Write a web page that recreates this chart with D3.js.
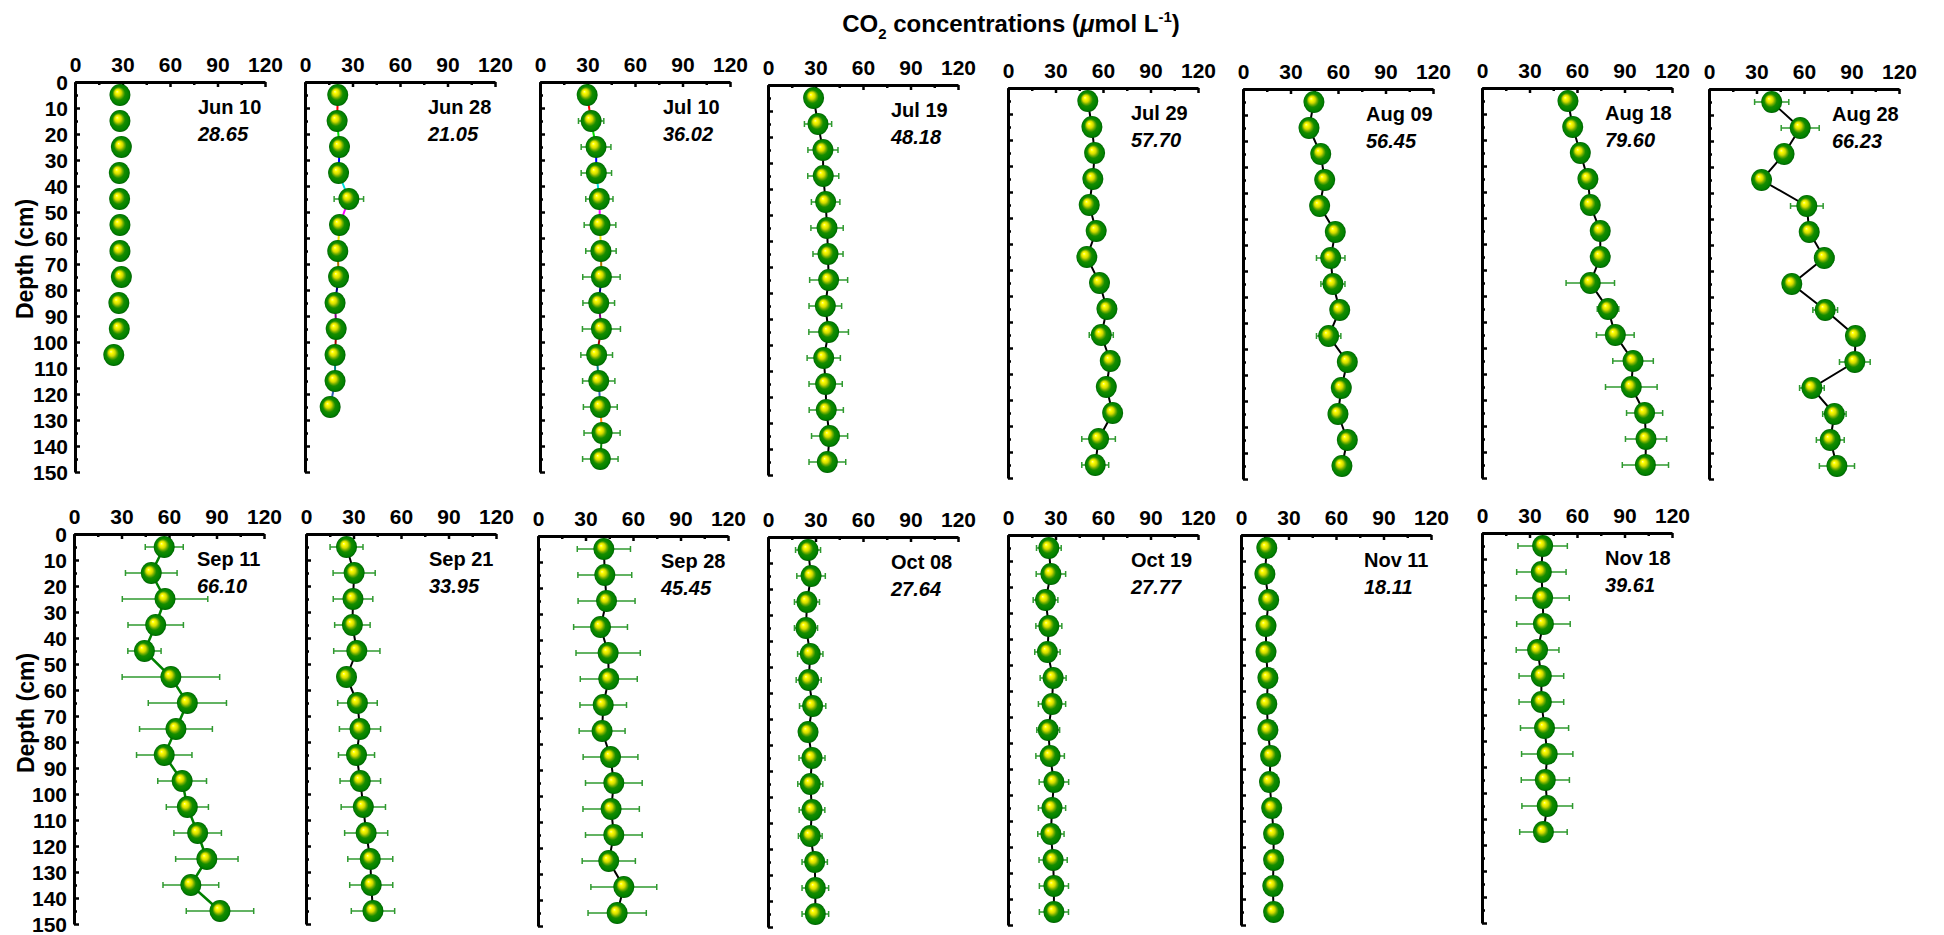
<!DOCTYPE html>
<html lang="en">
<head>
<meta charset="UTF-8">
<title>CO2 depth profiles</title>
<script src="https://d3js.org/d3.v7.min.js"></script>
<style>
    body { margin: 0; background: #fff; }
    svg { display: block; font-family: "Liberation Sans", Arial, sans-serif; font-weight: bold; }
    .axis text { font-size: 21px; font-weight: bold; fill: #000; }
    .axis .tick line { stroke: #000; stroke-width: 2.5; }
    .axis path.domain { stroke: #000; stroke-width: 3; }
</style>
</head>
<body>
<svg width="1944" height="935"></svg>
<script>
// ---- data ----
const depths = [5, 15, 25, 35, 45, 55, 65, 75, 85, 95, 105, 115, 125, 135, 145];
const dates = ["Jun 10", "Jun 28", "Jul 10", "Jul 19", "Jul 29", "Aug 09", "Aug 18", "Aug 28",
               "Sep 11", "Sep 21", "Sep 28", "Oct 08", "Oct 19", "Nov 11", "Nov 18"];
const means = ["28.65", "21.05", "36.02", "48.18", "57.70", "56.45", "79.60", "66.23",
               "66.10", "33.95", "45.45", "27.64", "27.77", "18.11", "39.61"];
const xTicks = [0, 30, 60, 90, 120];
const depthTicks = d3.range(0, 151, 10);

const jun10 = [28.4, 28.4, 29.3, 28.0, 28.2, 28.4, 28.4, 29.3, 27.7, 28.0, 24.5];
const jun10Err = [1, 1, 1, 1, 1, 1, 1, 1, 1, 1, 1];
const jun28 = [20.7, 20.3, 21.8, 21.2, 27.7, 21.8, 20.7, 21.2, 19.0, 19.7, 19.0, 19.0, 15.9];
const jun28Err = [1, 1, 1, 1, 9.3, 1, 1, 1, 1, 1, 1, 1, 1];
const jul10 = [29.8, 32.3, 35.4, 35.6, 37.5, 37.9, 38.5, 38.8, 37.1, 38.8, 35.8, 37.1, 38.1, 39.2, 38.1];
const jul10Err = [2, 8, 9.4, 9.6, 8.6, 10, 9.6, 11.8, 10, 12, 10, 10.2, 10.7, 11.4, 11.2];
const jul19 = [28.8, 31.6, 34.7, 34.9, 36.4, 37.3, 37.9, 38.3, 36.2, 38.3, 35.2, 36.4, 36.8, 38.9, 37.5];
const jul19Err = [3, 8.6, 9.5, 9.8, 9, 10.2, 9.5, 12, 10.3, 12.5, 10.5, 10.5, 10.8, 11.4, 11.6];
const jul29 = [50.4, 53.0, 54.7, 53.6, 51.3, 55.7, 49.8, 57.8, 62.5, 58.9, 64.6, 62.1, 66.1, 57.2, 55.1];
const jul29Err = [1, 1, 2, 1, 1, 1, 1, 2, 1, 7.6, 2, 1, 2, 10.6, 8.5];
const aug09 = [44.8, 41.7, 49.1, 51.6, 48.4, 58.3, 55.4, 56.8, 61.1, 54.1, 65.9, 62.1, 60.0, 65.9, 62.5];
const aug09Err = [1, 1, 1, 3, 1, 1, 9, 7.6, 1, 7.7, 1, 1, 1, 1, 1];
const aug18 = [54.3, 57.3, 62.1, 66.9, 68.4, 74.7, 74.7, 68.4, 79.6, 84.2, 95.4, 94.3, 102.7, 103.6, 103.2];
const aug18Err = [2, 2, 3, 3, 2, 2, 1, 15.3, 6.8, 11.9, 12.8, 16.3, 11.4, 13, 14.6];
const aug28 = [39.6, 57.6, 47.4, 33.2, 61.8, 63.3, 72.8, 52.3, 73.4, 92.5, 92.1, 65.0, 79.2, 76.6, 80.8];
const aug28Err = [10.8, 12, 1, 1, 10.3, 1, 6, 2, 7.8, 1, 9.7, 7.8, 7.4, 8.8, 11.1];
const sep11 = [57.0, 48.8, 57.5, 51.6, 44.5, 61.2, 71.6, 64.4, 57.0, 68.3, 71.6, 78.1, 83.9, 73.8, 92.2];
const sep11Err = [12, 16.3, 27, 17.5, 10.5, 30.8, 24.7, 23, 17.5, 15.4, 13.3, 15, 19.7, 17.6, 21.3];
const sep21 = [25.6, 30.4, 29.7, 29.3, 32.1, 25.6, 32.5, 34.1, 31.9, 34.3, 36.2, 38.0, 40.6, 41.2, 42.3];
const sep21Err = [10.4, 13.3, 12.5, 11.2, 14.6, 2, 12.5, 13, 11.4, 12.8, 14, 13.6, 14.2, 13.6, 13.7];
const sep28 = [41.6, 42.2, 43.3, 39.5, 44.3, 44.7, 41.2, 40.5, 45.8, 47.9, 46.2, 47.9, 44.7, 54.2, 50.0];
const sep28Err = [16.8, 17, 18, 17, 20.3, 18, 14.7, 14.5, 17.3, 17.9, 17.8, 17.9, 16.8, 20.8, 18.4];
const oct08 = [25.3, 27.2, 24.6, 24.0, 26.7, 25.7, 28.2, 25.3, 27.8, 26.7, 27.8, 26.7, 29.5, 29.9, 29.9];
const oct08Err = [7.9, 9, 7.9, 7.3, 8, 7.9, 8.3, 3, 8.2, 7.9, 8.1, 7.5, 8, 8.4, 8.4];
const oct19 = [25.8, 27.1, 23.7, 25.8, 24.9, 28.5, 27.8, 25.4, 26.6, 29.0, 27.8, 27.1, 28.5, 29.0, 29.0];
const oct19Err = [7.8, 9.3, 7.8, 8.2, 8, 8.2, 8.6, 7.2, 9, 9.3, 8.6, 8.3, 8.9, 9.2, 9.2];
const nov11 = [16.3, 15.1, 17.5, 15.8, 15.8, 17.0, 16.3, 17.0, 18.7, 18.0, 19.4, 20.6, 20.6, 20.1, 20.6];
const nov11Err = [1, 1, 1, 1, 1, 1, 1, 1, 1, 1, 1, 1, 1, 1, 1];
const nov18 = [38.3, 37.5, 38.3, 38.8, 35.1, 37.5, 37.5, 39.5, 41.2, 40.0, 41.2, 38.8];
const nov18Err = [15.6, 15.6, 16.8, 16.9, 13.5, 14.1, 14.1, 15.2, 16.2, 15.2, 16, 15];

const values = [jun10, jun28, jul10, jul19, jul29, aug09, aug18, aug28,
                sep11, sep21, sep28, oct08, oct19, nov11, nov18];
const errors = [jun10Err, jun28Err, jul10Err, jul19Err, jul29Err, aug09Err, aug18Err, aug28Err,
                sep11Err, sep21Err, sep28Err, oct08Err, oct19Err, nov11Err, nov18Err];

// ---- layout ----
const panelLeft = [75, 305, 540, 768, 1008, 1243, 1482, 1709,
                   74, 306, 538, 768, 1008, 1241, 1482];
const panelTop = [82, 82, 82, 85, 88, 89, 88, 89,
                  534, 534, 536, 537, 535, 535, 533];
const panelW = 190, panelH = 390;
// connector line style per panel
const lineStyle = ["none", "multi", "multi", "black", "black", "black", "black", "black",
                   "green", "black", "black", "black", "black", "black", "black"];
const multiColors = ["#ff0000", "#00e000", "#0000ff", "#00e0e0", "#ff00ff", "#e8e800", "#b07000",
                     "#000080", "#800080", "#a00000", "#008080", "#3060b0", "#ff8000", "#008000"];

const svg = d3.select("svg");

// ball gradient
const grad = svg.append("defs").append("radialGradient")
    .attr("id", "ball")
    .attr("cx", "50%").attr("cy", "50%").attr("r", "50%")
    .attr("fx", "36%").attr("fy", "34%");
[[0, "#ffffa0"], [0.14, "#ffff00"], [0.32, "#d2d800"], [0.46, "#6cac00"],
 [0.6, "#168c00"], [0.88, "#008000"], [1, "#005e00"]]
    .forEach(s => grad.append("stop").attr("offset", s[0]).attr("stop-color", s[1]));

const x = d3.scaleLinear().domain([0, 120]).range([0, panelW]);
const y = d3.scaleLinear().domain([0, 150]).range([0, panelH]);

dates.forEach((date, p) => {
    const g = svg.append("g").attr("transform", `translate(${panelLeft[p]},${panelTop[p]})`);
    const firstCol = (p === 0 || p === 8);
    const vals = values[p];
    const errs = errors[p];
    const pts = vals.map((v, i) => ({v: v, d: depths[i], e: errs[i]}));

    // minor ticks
    g.append("g").attr("class", "axis")
        .call(d3.axisTop(x).tickValues([15, 45, 75, 105]).tickSize(-3).tickFormat(""))
        .call(a => a.select(".domain").remove());
    g.append("g").attr("class", "axis")
        .call(d3.axisLeft(y).tickValues(d3.range(5, 150, 10)).tickSize(-3).tickFormat(""))
        .call(a => a.select(".domain").remove());

    // major axes
    g.append("g").attr("class", "axis")
        .call(d3.axisTop(x).tickValues(xTicks).tickSize(-5).tickSizeOuter(0).tickPadding(10));
    g.append("g").attr("class", "axis")
        .call(d3.axisLeft(y).tickValues(depthTicks).tickSize(-5).tickSizeOuter(0).tickPadding(7)
            .tickFormat(firstCol ? d3.format("d") : ""))
        .call(a => a.selectAll("text").attr("dy", "0.36em"));

    // connecting line
    if (lineStyle[p] === "multi") {
        g.selectAll(".seg").data(pts.slice(1)).enter().append("line")
            .attr("x1", (d, i) => x(pts[i].v)).attr("y1", (d, i) => y(pts[i].d))
            .attr("x2", d => x(d.v)).attr("y2", d => y(d.d))
            .attr("stroke", (d, i) => multiColors[i % multiColors.length])
            .attr("stroke-width", 2);
    } else if (lineStyle[p] !== "none") {
        g.append("path").datum(pts)
            .attr("d", d3.line().x(d => x(d.v)).y(d => y(d.d)))
            .attr("fill", "none")
            .attr("stroke", lineStyle[p] === "green" ? "#008000" : "#000")
            .attr("stroke-width", lineStyle[p] === "green" ? 2.5 : 2);
    }

    // error bars
    const eb = g.selectAll(".eb").data(pts).enter().append("g")
        .attr("stroke", "#2f9a2f").attr("stroke-width", 1.5);
    eb.append("line")
        .attr("x1", d => x(d.v - d.e)).attr("x2", d => x(d.v + d.e))
        .attr("y1", d => y(d.d)).attr("y2", d => y(d.d));
    eb.append("line")
        .attr("x1", d => x(d.v - d.e)).attr("x2", d => x(d.v - d.e))
        .attr("y1", d => y(d.d) - 3).attr("y2", d => y(d.d) + 3);
    eb.append("line")
        .attr("x1", d => x(d.v + d.e)).attr("x2", d => x(d.v + d.e))
        .attr("y1", d => y(d.d) - 3).attr("y2", d => y(d.d) + 3);

    // balls
    g.selectAll(".ball").data(pts).enter().append("ellipse")
        .attr("cx", d => x(d.v)).attr("cy", d => y(d.d))
        .attr("rx", 10.5).attr("ry", 11)
        .attr("fill", "url(#ball)");

    // date + mean
    g.append("text").attr("x", 123).attr("y", 32)
        .attr("font-size", 20).attr("font-weight", "bold").text(date);
    g.append("text").attr("x", 123).attr("y", 59)
        .attr("font-size", 20).attr("font-weight", "bold").attr("font-style", "italic")
        .text(means[p]);
});

// y-axis titles
[[25, 259], [26, 713]].forEach(c => {
    svg.append("text")
        .attr("transform", `translate(${c[0] + 8},${c[1]}) rotate(-90)`)
        .attr("text-anchor", "middle")
        .attr("font-size", 23).attr("font-weight", "bold")
        .text("Depth (cm)");
});

// main title
const title = svg.append("text").attr("x", 1011).attr("y", 32)
    .attr("text-anchor", "middle").attr("font-size", 24).attr("font-weight", "bold");
title.append("tspan").text("CO");
title.append("tspan").attr("font-size", 15).attr("dy", 7).text("2");
title.append("tspan").attr("dy", -7).text(" concentrations (");
title.append("tspan").attr("font-style", "italic").text("\u03bc");
title.append("tspan").text("mol L");
title.append("tspan").attr("font-size", 15).attr("dy", -10).text("-1");
title.append("tspan").attr("dy", 10).text(")");
</script>
</body>
</html>
